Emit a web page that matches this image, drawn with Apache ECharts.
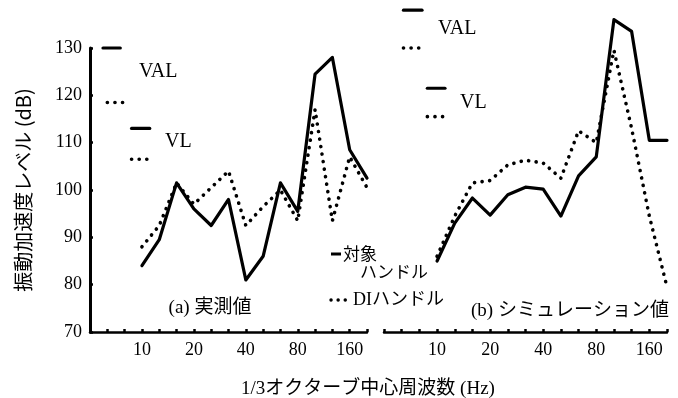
<!DOCTYPE html>
<html><head><meta charset="utf-8">
<script src="https://cdn.jsdelivr.net/npm/echarts@6/dist/echarts.min.js"></script>
<style>html,body{margin:0;padding:0;background:#fff}#c{width:678px;height:398px}</style>
</head><body><div id="c"></div>
<script>
// 1/3 octave band centre frequencies (Hz), one per axis tick
const bands = ['5','6.3','8','10','12.5','16','20','25','31.5','40','50','63','80','100','125','160','200'];
const tickLabels = ['10','20','40','80','160'];
const startBand = 3; // data start at 10 Hz
// (a) 実測値
const measTarget = [84, 89.5, 101.5, 96, 92.5, 98, 81, 86, 101.5, 95.5, 124.5, 128, 108.5, 102.5];
const measDI     = [88, 92.5, 101.5, 97, 100.5, 104, 92.5, 96.5, 100, 93.5, 117, 93.5, 107, 100.5];
// (b) シミュレーション値
const simTarget  = [85, 93, 98.3, 94.7, 99, 100.6, 100.2, 94.5, 103, 107, 136, 133.5, 110.5, 110.5];
const simDI      = [86, 94.5, 101.5, 102, 105.3, 106.3, 105.7, 102.5, 112.5, 110, 129.5, 113, 94.5, 79.5];
// overall values [対象ハンドル, DIハンドル]
const measVAL = [130, 118.5];
const measVL  = [113, 106.5];
const simVAL  = [138, 130];
const simVL   = [121.5, 115.5];

const SERIF = "'Liberation Serif','DejaVu Serif',serif";
const MIXED = "'Liberation Serif','Noto Sans CJK JP',serif";
const JP = "'Noto Sans CJK JP',sans-serif";

const toXY = arr => arr.map((v, i) => [startBand + i, v]);
const seg = (x1, x2, v) => [[x1, v], [x2, v]];

const solid = {color: '#000', width: 3.2, cap: 'round', join: 'round'};
const dotted = {color: '#000', width: 3.6, type: [0.1, 7.5], cap: 'round', join: 'round'};

function mkX(idx) {
  return {
    gridIndex: idx, type: 'value', min: 0, max: 16, interval: 1,
    axisLine: {show: true, onZero: false, lineStyle: {color: '#000', width: 2.5}},
    axisTick: {show: true, inside: true, length: 3, lineStyle: {color: '#000', width: 2.5}},
    axisLabel: {
      margin: 9, color: '#000', fontFamily: SERIF, fontSize: 18,
      formatter: v => tickLabels.indexOf(bands[v]) >= 0 ? bands[v] : ''
    },
    splitLine: {show: false}
  };
}
function mkY(idx, show) {
  return {
    gridIndex: idx, type: 'value', min: 70, max: 130, interval: 10, show: show,
    axisLine: {show: true, lineStyle: {color: '#000', width: 3}},
    axisTick: {show: true, inside: true, length: 3, lineStyle: {color: '#000', width: 2.5}},
    axisLabel: {margin: 8, color: '#000', fontFamily: SERIF, fontSize: 18},
    splitLine: {show: false},
    name: show ? '振動加速度レベル (dB)' : '',
    nameLocation: 'middle', nameRotate: 90, nameGap: 57,
    nameTextStyle: {fontFamily: JP, fontSize: 20, color: '#000'}
  };
}
function ser(idx, name, data, style) {
  return {type: 'line', name: name, xAxisIndex: idx, yAxisIndex: idx, data: data,
    showSymbol: false, symbol: 'none', clip: false, lineStyle: style, silent: true, animation: false};
}

const chart = echarts.init(document.getElementById('c'), null, {renderer: 'canvas'});
chart.setOption({
  backgroundColor: '#fff',
  animation: false,
  grid: [
    {left: 90, right: 311, top: 48, bottom: 66},
    {left: 384, right: 11, top: 48, bottom: 66}
  ],
  xAxis: [mkX(0), mkX(1)],
  yAxis: [mkY(0, true), mkY(1, false)],
  series: [
    ser(0, '対象ハンドル', toXY(measTarget), solid),
    ser(0, 'DIハンドル', toXY(measDI), dotted),
    ser(1, '対象ハンドル', toXY(simTarget), solid),
    ser(1, 'DIハンドル', toXY(simDI), dotted),
    ser(0, 'VAL 対象', seg(0.75, 1.75, measVAL[0]), solid),
    ser(0, 'VAL DI', seg(1.0, 1.95, measVAL[1]), dotted),
    ser(0, 'VL 対象', seg(2.4, 3.45, measVL[0]), solid),
    ser(0, 'VL DI', seg(2.4, 3.45, measVL[1]), dotted),
    ser(1, 'VAL 対象', seg(1.1, 2.15, simVAL[0]), solid),
    ser(1, 'VAL DI', seg(1.1, 2.2, simVAL[1]), dotted),
    ser(1, 'VL 対象', seg(2.45, 3.45, simVL[0]), solid),
    ser(1, 'VL DI', seg(2.45, 3.45, simVL[1]), dotted)
  ],
  graphic: [
    {type: 'text', left: 139, top: 62, style: {text: 'VAL', font: '20px ' + SERIF, fill: '#000'}},
    {type: 'text', left: 165, top: 132, style: {text: 'VL', font: '20px ' + SERIF, fill: '#000'}},
    {type: 'text', left: 438, top: 19, style: {text: 'VAL', font: '20px ' + SERIF, fill: '#000'}},
    {type: 'text', left: 460, top: 93, style: {text: 'VL', font: '20px ' + SERIF, fill: '#000'}},
    {type: 'line', shape: {x1: 331, y1: 254, x2: 341, y2: 254}, style: {stroke: '#000', lineWidth: 3}},
    {type: 'text', x: 343, y: 254, style: {text: '対象', font: '17px ' + JP, fill: '#000', verticalAlign: 'middle'}},
    {type: 'text', x: 360, y: 272, style: {text: 'ハンドル', font: '17px ' + JP, fill: '#000', verticalAlign: 'middle'}},
    {type: 'line', shape: {x1: 331, y1: 300, x2: 347, y2: 300}, style: {stroke: '#000', lineWidth: 3.4, lineDash: [0.1, 7], lineCap: 'round'}},
    {type: 'text', x: 353, y: 300, style: {text: 'DIハンドル', font: '18px ' + MIXED, fill: '#000', verticalAlign: 'middle'}},
    {type: 'text', x: 210, y: 308, style: {text: '(a) 実測値', font: '19px ' + MIXED, fill: '#000', align: 'center', verticalAlign: 'middle'}},
    {type: 'text', x: 570, y: 311, style: {text: '(b) シミュレーション値', font: '19px ' + MIXED, fill: '#000', align: 'center', verticalAlign: 'middle'}},
    {type: 'text', x: 368, y: 389, style: {text: '1/3オクターブ中心周波数 (Hz)', font: '19px ' + MIXED, fill: '#000', align: 'center', verticalAlign: 'middle'}}
  ]
});
</script>
</body></html>
